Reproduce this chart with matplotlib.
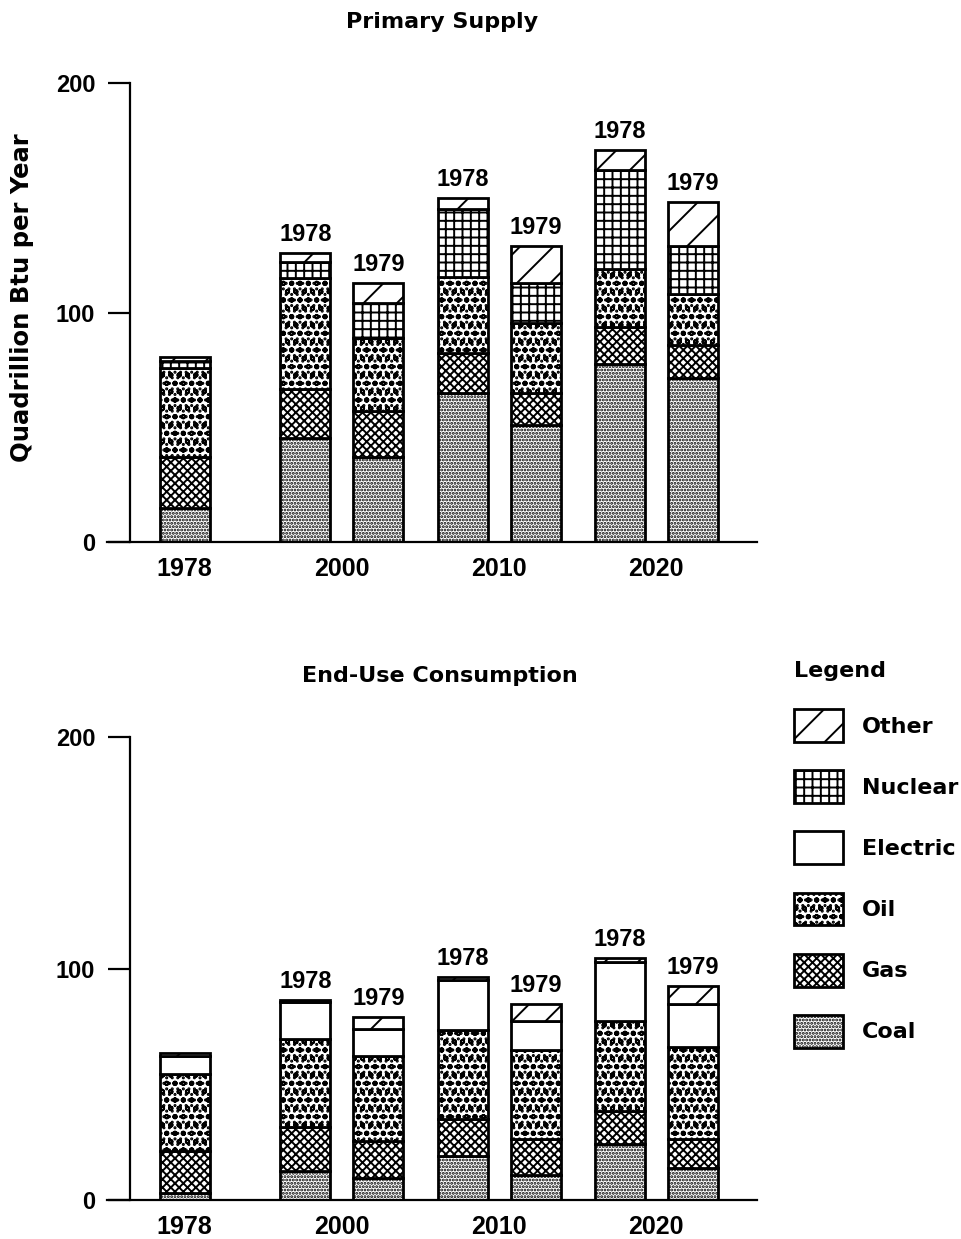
import matplotlib
matplotlib.use("Agg")
import matplotlib.pyplot as plt
from matplotlib.patches import Patch

plt.rcParams['font.family'] = ['Liberation Sans', 'DejaVu Sans']
plt.rcParams['font.weight'] = 'bold'
plt.rcParams['hatch.linewidth'] = 1.4

WIDE = ['DejaVu Sans']

# ---------------- data ----------------
groups = ['1978', '2000', '2010', '2020']
bar_group = [0, 1, 1, 2, 2, 3, 3]
bar_side = [0, -1, 1, -1, 1, -1, 1]
bar_labels = ['', '1978', '1979', '1978', '1979', '1978', '1979']

# Primary supply (quadrillion Btu / year), components bottom->top
ps_coal = [15, 45.5, 37, 65, 51, 77.5, 71.5]
ps_gas = [22, 21, 20, 17.5, 14, 16, 14.5]
ps_oil = [39, 48.5, 32, 33, 30.5, 25.5, 22]
ps_nuclear = [3, 7, 15, 29.5, 17.5, 43, 21]
ps_other = [1.5, 4, 9, 5, 16, 9, 19]

# End-use consumption
eu_coal = [3, 12.5, 9.5, 19, 11, 24, 14]
eu_gas = [18, 19, 16, 16, 15.5, 14.5, 12.5]
eu_oil = [33.5, 38, 36.5, 38.5, 38.5, 39, 39.5]
eu_electric = [7.5, 16, 12, 21.5, 12.5, 25.5, 18.5]
eu_other = [1.5, 1, 5, 1.5, 7, 1.5, 8]

legend_order = ['Other', 'Nuclear', 'Electric', 'Oil', 'Gas', 'Coal']
styles = {
    'Coal': '.....',
    'Gas': 'xxxx',
    'Oil': 'oo...',
    'Electric': '',
    'Nuclear': '++',
    'Other': '/',
}

# ---------------- layout ----------------
W, H = 962, 1239
fig = plt.figure(figsize=(W / 100, H / 100), dpi=100)

def px_axes(x0, x1, ytop, ybot):
    return fig.add_axes([x0 / W, 1 - ybot / H, (x1 - x0) / W, (ybot - ytop) / H])

ax1 = px_axes(107, 757, 83, 542)
ax2 = px_axes(107, 757, 737, 1200)

half_gap = 0.232
width = 0.318
xpos = [g + s * half_gap for g, s in zip(bar_group, bar_side)]

def stacked(ax, series):
    bottom = [0] * len(xpos)
    for name, vals in series:
        ax.bar(xpos, vals, width=width, bottom=bottom, color='white',
               edgecolor='black', linewidth=2.0, hatch=styles[name])
        bottom = [b + v for b, v in zip(bottom, vals)]
    for x, top, lab in zip(xpos, bottom, bar_labels):
        if lab:
            ax.annotate(lab, (x, top), xytext=(0, 5), textcoords='offset points',
                        ha='center', va='bottom', fontsize=17, fontweight='bold')

stacked(ax1, [('Coal', ps_coal), ('Gas', ps_gas), ('Oil', ps_oil),
              ('Nuclear', ps_nuclear), ('Other', ps_other)])
stacked(ax2, [('Coal', eu_coal), ('Gas', eu_gas), ('Oil', eu_oil),
              ('Electric', eu_electric), ('Other', eu_other)])

for ax in (ax1, ax2):
    ax.set_xlim(-0.494, 3.64)
    ax.set_ylim(0, 200)
    ax.set_yticks([0, 100, 200])
    ax.set_xticks(range(len(groups)))
    ax.set_xticklabels(groups)
    ax.spines['top'].set_visible(False)
    ax.spines['right'].set_visible(False)
    ax.spines['left'].set_position(('axes', 23 / 650))
    ax.spines['left'].set_linewidth(1.6)
    ax.spines['bottom'].set_linewidth(1.6)
    ax.tick_params(axis='y', direction='out', length=16, width=1.6, pad=9,
                   labelsize=17)
    ax.tick_params(axis='x', length=0, pad=11, labelsize=18)

fig.text(442 / W, 1 - 22 / H, 'Primary Supply', ha='center', va='center',
         fontsize=16, fontweight='bold', family=WIDE)
fig.text(440 / W, 1 - 676 / H, 'End-Use Consumption', ha='center', va='center',
         fontsize=16, fontweight='bold', family=WIDE)
fig.text(22 / W, 1 - 298 / H, 'Quadrillion Btu per Year', rotation=90,
         ha='center', va='center', fontsize=17.5, fontweight='bold', family=WIDE)

handles = [Patch(facecolor='white', edgecolor='black', linewidth=2.0,
                 hatch=styles[n]) for n in legend_order]
leg = fig.legend(handles, legend_order, loc='upper left',
                 bbox_to_anchor=(794 / W, 1 - 661 / H), frameon=False,
                 title='Legend', alignment='left',
                 prop={'family': WIDE, 'size': 16, 'weight': 'bold'},
                 title_fontproperties={'family': WIDE, 'size': 16, 'weight': 'bold'},
                 handlelength=2.2, handleheight=1.9, labelspacing=1.27,
                 handletextpad=0.85, borderpad=0, borderaxespad=0)

fig.savefig('out.png', dpi=100)
